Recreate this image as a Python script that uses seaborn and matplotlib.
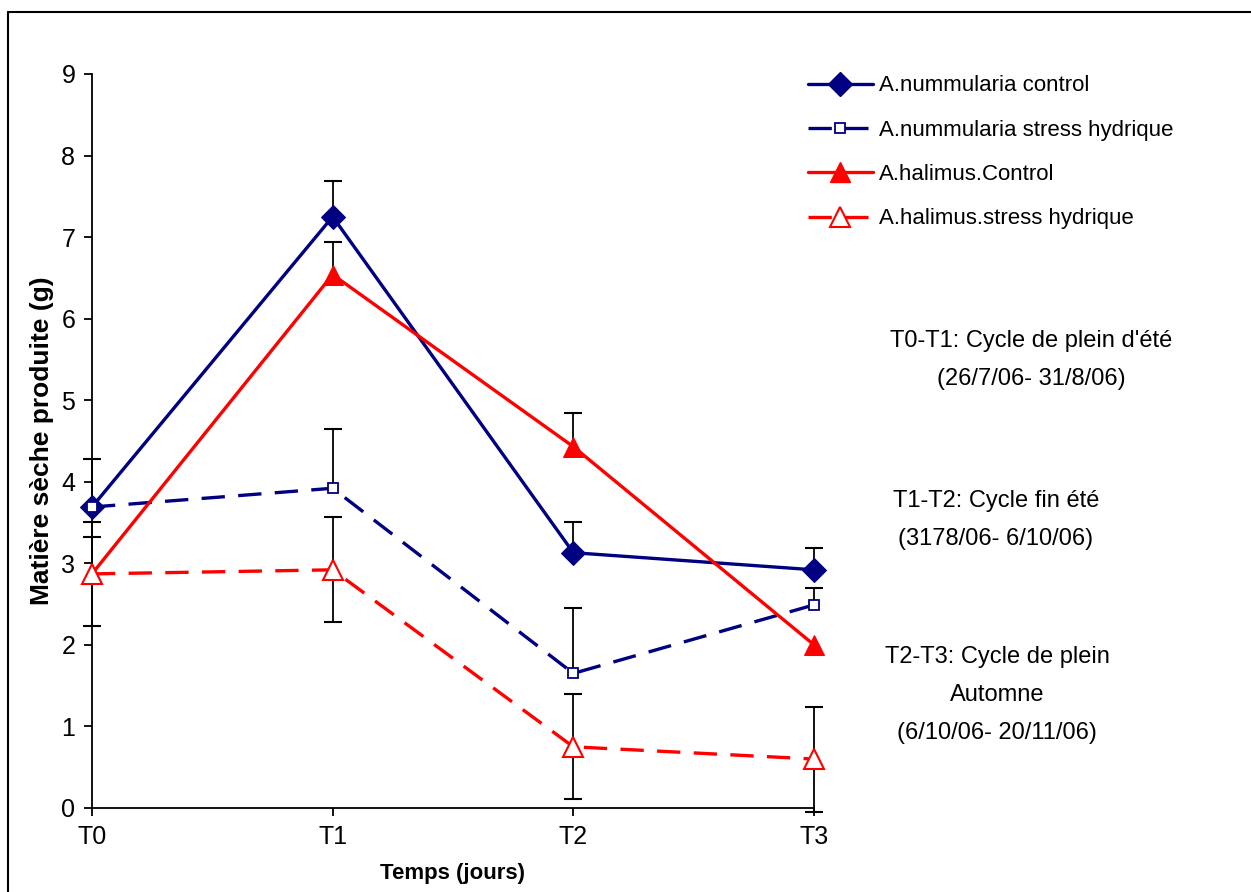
import matplotlib
matplotlib.use('Agg')
import matplotlib.pyplot as plt
from matplotlib.lines import Line2D
import numpy as np
import pandas as pd
import seaborn as sns

# Valeurs (matière sèche, g)
temps = ['T0', 'T1', 'T2', 'T3']
nummularia_control = [3.69, 7.25, 3.13, 2.92]
nummularia_stress = [3.69, 3.92, 1.65, 2.49]
halimus_control = [2.87, 6.54, 4.43, 2.00]
halimus_stress = [2.87, 2.92, 0.75, 0.60]

# barres d'erreur (haut / bas)
nummularia_control_haut = [0.59, 0.44, 0.38, 0.27]
nummularia_control_bas = [0, 0, 0, 0]
nummularia_stress_haut = [0, 0.73, 0.80, 0.21]
nummularia_stress_bas = [0, 0, 0, 0]
halimus_control_haut = [0.45, 0.40, 0.41, 0]
halimus_control_bas = [0, 0, 0, 0]
halimus_stress_haut = [0.64, 0.65, 0.65, 0.64]
halimus_stress_bas = [0.64, 0.64, 0.64, 0.65]

labels = ['A.nummularia control', 'A.nummularia stress hydrique',
          'A.halimus.Control', 'A.halimus.stress hydrique']

sns.set_theme(style='white', rc={'text.color': 'black', 'axes.labelcolor': 'black',
                                 'xtick.color': 'black', 'ytick.color': 'black'})
plt.rcParams['font.family'] = ['Liberation Sans', 'DejaVu Sans']

NAVY = '#000080'
RED = '#ff0000'

series = [
    (labels[0], nummularia_control, nummularia_control_bas, nummularia_control_haut,
     dict(color=NAVY, marker='D', markersize=12, markerfacecolor=NAVY, markeredgecolor=NAVY, linestyle='-')),
    (labels[1], nummularia_stress, nummularia_stress_bas, nummularia_stress_haut,
     dict(color=NAVY, marker='s', markersize=7, markerfacecolor='white', markeredgecolor=NAVY,
          markeredgewidth=1.3, linestyle=(0, (7, 4)))),
    (labels[2], halimus_control, halimus_control_bas, halimus_control_haut,
     dict(color=RED, marker='^', markersize=14, markerfacecolor=RED, markeredgecolor=RED, linestyle='-')),
    (labels[3], halimus_stress, halimus_stress_bas, halimus_stress_haut,
     dict(color=RED, marker='^', markersize=14, markerfacecolor='white', markeredgecolor=RED,
          markeredgewidth=1.5, linestyle=(0, (7, 4)))),
]

fig = plt.figure(figsize=(12.51, 8.92), dpi=100)
ax = fig.add_axes([0.0735, 0.0942, 0.5772, 0.8229])

x = np.arange(len(temps))

# barres d'erreur d'abord, sous les courbes
for name, vals, bas, haut, st in series:
    vals = np.array(vals)
    bas = np.array(bas)
    haut = np.array(haut)
    ax.errorbar(x, vals, yerr=[bas, haut], fmt='none', ecolor='black',
                elinewidth=1.3, capsize=0, zorder=1, clip_on=False)
    m = haut > 0
    ax.plot(x[m], vals[m] + haut[m], linestyle='none', marker='_', markersize=13,
            markeredgewidth=1.5, color='black', zorder=1, clip_on=False)
    m = bas > 0
    ax.plot(x[m], vals[m] - bas[m], linestyle='none', marker='_', markersize=13,
            markeredgewidth=1.5, color='black', zorder=1, clip_on=False)

handles = []
for name, vals, bas, haut, st in series:
    df = pd.DataFrame({'temps': x, 'ms': vals})
    sns.lineplot(data=df, x='temps', y='ms', ax=ax, linewidth=2.4, zorder=3,
                 clip_on=False, **st)
    handles.append(Line2D([0], [0], linewidth=2.4, **st))

ax.set_xlim(0, 3)
ax.set_ylim(0, 9)
ax.set_xticks(x)
ax.set_xticklabels(temps)
ax.set_yticks(range(0, 10))
for s in ['top', 'right']:
    ax.spines[s].set_visible(False)
for s in ['left', 'bottom']:
    ax.spines[s].set_color('black')
    ax.spines[s].set_linewidth(1.3)
ax.tick_params(axis='both', direction='out', length=6, width=1.3, color='black',
               labelcolor='black', labelsize=18, pad=6, bottom=True, left=True)
ax.set_xlabel('Temps (jours)', fontsize=16, fontweight='bold', labelpad=10, color='black')
ax.set_ylabel('Matière sèche produite (g)', fontsize=19, fontweight='bold', labelpad=5,
              color='black')

leg = fig.legend(handles, labels, loc='upper left', bbox_to_anchor=(0.630, 0.938),
                 frameon=False, fontsize=16, handlelength=2.9, handletextpad=0.3,
                 labelspacing=1.05, numpoints=1, labelcolor='black')

notes = [
    (1031, 360, "T0-T1: Cycle de plein d'été\n(26/7/06- 31/8/06)"),
    (996, 520, 'T1-T2: Cycle fin été\n(3178/06- 6/10/06)'),
    (997, 695, 'T2-T3: Cycle de plein\nAutomne\n(6/10/06- 20/11/06)'),
]
for px, py, txt in notes:
    fig.text(px / 1251, 1 - py / 892, txt, ha='center', va='center', color='black',
             multialignment='center', fontsize=17, linespacing=1.95)

# cadre extérieur (bords gauche et haut visibles)
fig.add_artist(Line2D([8 / 1251, 8 / 1251], [0, 1 - 12 / 892], color='black', linewidth=1.5))
fig.add_artist(Line2D([8 / 1251, 1], [1 - 12 / 892, 1 - 12 / 892], color='black', linewidth=1.5))

fig.savefig('out.png', dpi=100)
